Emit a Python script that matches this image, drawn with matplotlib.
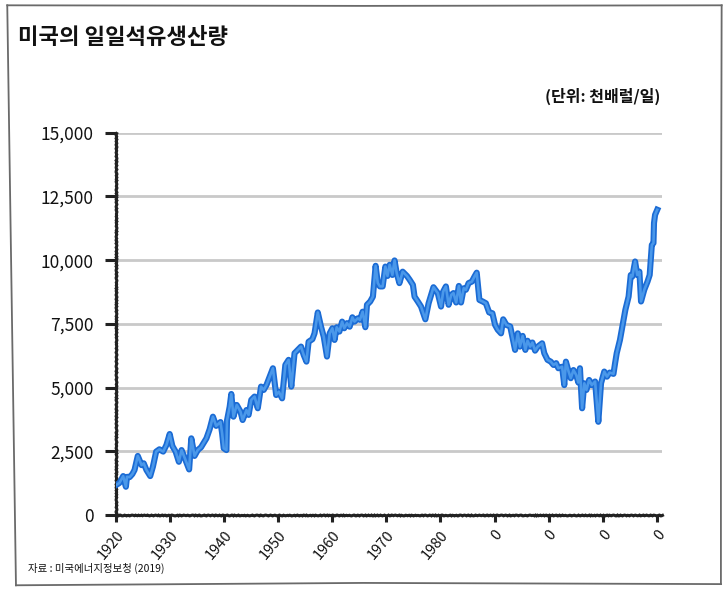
import matplotlib
matplotlib.use("Agg")
import matplotlib.pyplot as plt
import matplotlib.patheffects as pe
from matplotlib.lines import Line2D

plt.rcParams['font.family'] = ['Noto Sans CJK KR', 'DejaVu Sans']

title = "미국의 일일석유생산량"
unit_label = "(단위: 천배럴/일)"
source = "자료 : 미국에너지정보청 (2019)"

years = [1920.0, 1920.6, 1921.3, 1921.8, 1922.0, 1922.5, 1923.0, 1923.4, 1924.0, 1924.7,
         1925.1, 1925.6, 1926.3, 1926.8, 1927.4, 1928.0, 1928.7, 1929.3, 1929.9, 1930.4,
         1931.0, 1931.6, 1932.1, 1932.7, 1933.5, 1933.9, 1934.5, 1935.1, 1935.7, 1936.7,
         1937.3, 1937.9, 1938.5, 1939.3, 1939.6, 1939.9, 1940.4, 1940.5, 1941.0, 1941.3,
         1941.7, 1942.3, 1943.0, 1943.4, 1944.1, 1944.5, 1945.0, 1945.6, 1946.2, 1946.8,
         1947.3, 1947.8, 1948.4, 1949.0, 1949.6, 1950.1, 1950.7, 1951.3, 1951.9, 1952.4,
         1953.0, 1953.6, 1954.2, 1954.7, 1955.2, 1955.6, 1956.3, 1956.7, 1957.3, 1957.9,
         1958.4, 1959.0, 1959.5, 1960.0, 1960.4, 1960.8, 1961.3, 1961.8, 1962.2, 1962.7,
         1963.2, 1963.7, 1964.1, 1964.7, 1965.1, 1965.6, 1966.1, 1966.4, 1967.0, 1967.5,
         1968.0, 1968.4, 1968.8, 1969.3, 1969.8, 1970.2, 1970.6, 1971.1, 1971.5, 1971.9,
         1972.4, 1973.0, 1973.8, 1974.3, 1974.9, 1975.2, 1975.8, 1976.4, 1977.2, 1977.8,
         1978.7, 1979.5, 1980.1, 1980.5, 1981.0, 1981.5, 1982.0, 1982.4, 1982.9, 1983.4,
         1983.8, 1984.3, 1984.7, 1985.2, 1985.8, 1986.3, 1986.7, 1987.2, 1987.8, 1988.4,
         1989.0, 1989.6, 1990.1, 1990.6, 1991.2, 1991.6, 1992.2, 1992.9, 1993.3, 1993.8,
         1994.3, 1994.7, 1995.2, 1995.7, 1996.1, 1996.6, 1997.0, 1997.5, 1998.0, 1998.8,
         1999.2, 1999.8, 2000.4, 2000.9, 2001.4, 2001.8, 2002.5, 2002.9, 2003.2, 2003.7,
         2004.1, 2004.6, 2005.1, 2005.5, 2005.8, 2006.2, 2006.6, 2007.0, 2007.5, 2008.0,
         2008.6, 2009.2, 2009.7, 2010.3, 2010.8, 2011.3, 2012.0, 2012.3, 2012.6, 2013.2,
         2013.7, 2014.2, 2014.8, 2015.2, 2015.5, 2016.0, 2016.4, 2016.8, 2017.1, 2017.7,
         2018.3, 2018.7, 2019.1, 2019.4, 2019.5, 2019.7, 2020.1]

production = [1180, 1260, 1530, 1110, 1500, 1490, 1610, 1770, 2320, 1960,
              2030, 1770, 1530, 1900, 2490, 2580, 2490, 2750, 3180, 2710,
              2490, 2090, 2550, 2230, 1790, 3010, 2320, 2550, 2660, 3010,
              3370, 3860, 3500, 3650, 3210, 2620, 2550, 3700, 4250, 4750,
              3860, 4320, 4060, 3730, 4120, 3930, 4520, 4650, 4190, 5040,
              4910, 5100, 5430, 5760, 4710, 4840, 4580, 5890, 6090, 5040,
              6350, 6480, 6610, 6280, 6020, 6800, 6900, 7130, 7950, 7390,
              7000, 6220, 7130, 7330, 6870, 7370, 7200, 7590, 7330, 7530,
              7390, 7760, 7590, 7720, 7660, 7980, 7370, 8250, 8380, 8570,
              9780, 9100, 8970, 8970, 9750, 9380, 9820, 9420, 9990, 9490,
              9100, 9550, 9380, 9230, 9030, 8570, 8380, 8180, 7680, 8310,
              8940, 8710, 8180, 8770, 8970, 8250, 8640, 8710, 8340, 8990,
              8340, 8900, 8840, 9100, 9160, 9360, 9510, 8440, 8380, 8310,
              7950, 7920, 7460, 7270, 7130, 7680, 7460, 7400, 7000, 6480,
              7130, 6610, 7030, 6480, 6840, 6610, 6770, 6450, 6610, 6740,
              6350, 6090, 6020, 5890, 5960, 5760, 5820, 5100, 6020, 5630,
              5370, 5690, 5500, 5200, 5760, 4190, 5170, 4910, 5300, 5100,
              5240, 3660, 5170, 5630, 5430, 5590, 5540, 5960, 6350, 6870,
              7460, 8050, 8570, 9420, 9360, 9950, 9420, 9550, 8380, 8840,
              9160, 9420, 10600, 10670, 11460, 11780, 11980]

y_ticks = [0, 2500, 5000, 7500, 10000, 12500, 15000]
y_tick_labels = ["0", "2,500", "5,000", "7,500", "10,000", "12,500", "15,000"]
x_ticks = [1920, 1930, 1940, 1950, 1960, 1970, 1980, 1990, 2000, 2010, 2020]
x_tick_labels = ["1920", "1930", "1940", "1950", "1960", "1970", "1980", "0", "0", "0", "0"]

fig = plt.figure(figsize=(7.26, 5.90), dpi=100)
fig.patch.set_facecolor('white')

# hand-drawn frame around the figure (slightly uneven straight strokes)
frame_kw = dict(color='#6a6a6a', lw=1.3, transform=fig.transFigure)
for xs, ys in [([0.010, 0.5, 0.994], [0.991, 0.990, 0.991]),
               ([0.994, 0.993, 0.993], [0.991, 0.5, 0.010]),
               ([0.022, 0.5, 0.993], [0.008, 0.012, 0.010]),
               ([0.010, 0.016, 0.022], [0.991, 0.5, 0.008])]:
    fig.add_artist(Line2D(xs, ys, **frame_kw))

ax = fig.add_axes([0.160, 0.127, 0.752, 0.648])
ax.set_xlim(1920, 2021)
ax.set_ylim(0, 15000)

ax.set_yticks(y_ticks)
ax.set_yticklabels(y_tick_labels, fontsize=12.5, fontstyle='italic')
ax.set_xticks(x_ticks)
ax.set_xticklabels(x_tick_labels, fontsize=10.5, rotation=50, ha='right', va='top',
                   rotation_mode='anchor', fontstyle='italic')

ax.yaxis.grid(True, color='#c9c9c9', lw=2.0)
ax.xaxis.grid(False)
ax.set_axisbelow(True)

for side in ['top', 'right']:
    ax.spines[side].set_visible(False)
for side in ['left', 'bottom']:
    ax.spines[side].set_linewidth(2.2)
    ax.spines[side].set_color('#222222')
    ax.spines[side].set_sketch_params(scale=0.4, length=4, randomness=2)

ax.tick_params(axis='y', direction='out', length=8, width=2.2, color='#222222',
               labelcolor='#111111', pad=8)
ax.tick_params(axis='x', direction='out', length=5, width=2.2, color='#222222',
               labelcolor='#111111', pad=4)

ax.plot(years, production, color='#4a98ea', lw=1.9, solid_joinstyle='round',
        path_effects=[pe.Stroke(linewidth=4.4, foreground='#1b6bd4'), pe.Normal()],
        zorder=3)

fig.text(0.025, 0.936, title, fontsize=16, fontweight='bold', ha='left', va='center',
         color='#111111')
fig.text(0.909, 0.836, unit_label, fontsize=11.5, fontweight='bold', ha='right',
         va='center', color='#111111')
fig.text(0.038, 0.036, source, fontsize=7.5, ha='left', va='center', color='#111111')

fig.savefig('out.png', dpi=100, facecolor='white')
